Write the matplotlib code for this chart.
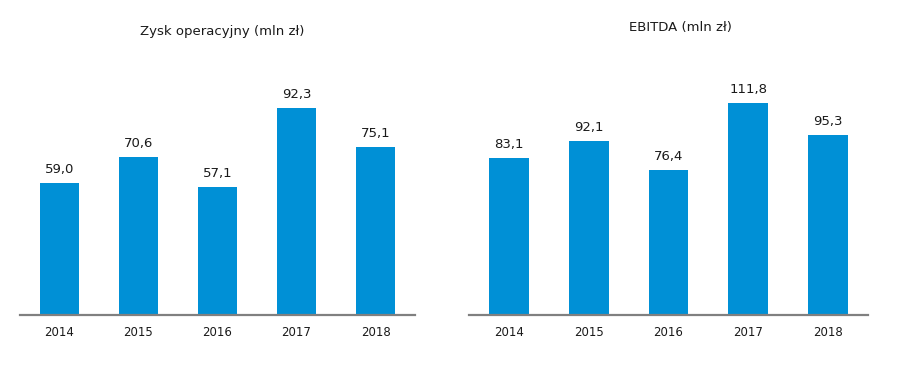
import matplotlib.pyplot as plt

years = ["2014", "2015", "2016", "2017", "2018"]
zysk = [59.0, 70.6, 57.1, 92.3, 75.1]
ebitda = [83.1, 92.1, 76.4, 111.8, 95.3]

title_left = "Zysk operacyjny (mln zł)"
title_right = "EBITDA (mln zł)"

bar_color = "#0090D6"
axis_color = "#808080"

fig = plt.figure(figsize=(9.2, 3.71), dpi=100)
plt.rcParams["font.family"] = ["DejaVu Sans"]

ax1 = fig.add_axes([20 / 920, 1 - 315 / 371, 395 / 920, 275 / 371])
ax2 = fig.add_axes([469 / 920, 1 - 315 / 371, 399 / 920, 275 / 371])


def draw(ax, values, ymax):
    x = range(len(years))
    ax.bar(x, values, width=0.5, color=bar_color, zorder=2)
    for xi, v in zip(x, values):
        ax.annotate(f"{v:.1f}".replace(".", ","), (xi, v), xytext=(0, 5),
                    textcoords="offset points", ha="center", va="bottom",
                    fontsize=9.5, color="#1a1a1a")
    ax.set_xlim(-0.5, len(years) - 0.5)
    ax.set_ylim(0, ymax)
    ax.set_xticks(list(x))
    ax.set_xticklabels(years, fontsize=8.5, color="#1a1a1a")
    ax.tick_params(axis="x", length=0, pad=8)
    ax.set_yticks([])
    for s in ["top", "right", "left"]:
        ax.spines[s].set_visible(False)
    ax.spines["bottom"].set_color(axis_color)
    ax.spines["bottom"].set_linewidth(1.6)


draw(ax1, zysk, 275 / 2.24)
draw(ax2, ebitda, 275 / 1.893)

fig.text(222 / 920, 1 - 31 / 371, title_left, ha="center", va="center",
         fontsize=9.5, color="#1a1a1a")
fig.text(680 / 920, 1 - 27 / 371, title_right, ha="center", va="center",
         fontsize=9.5, color="#1a1a1a")

fig.savefig("out.png", dpi=100, facecolor="white")
